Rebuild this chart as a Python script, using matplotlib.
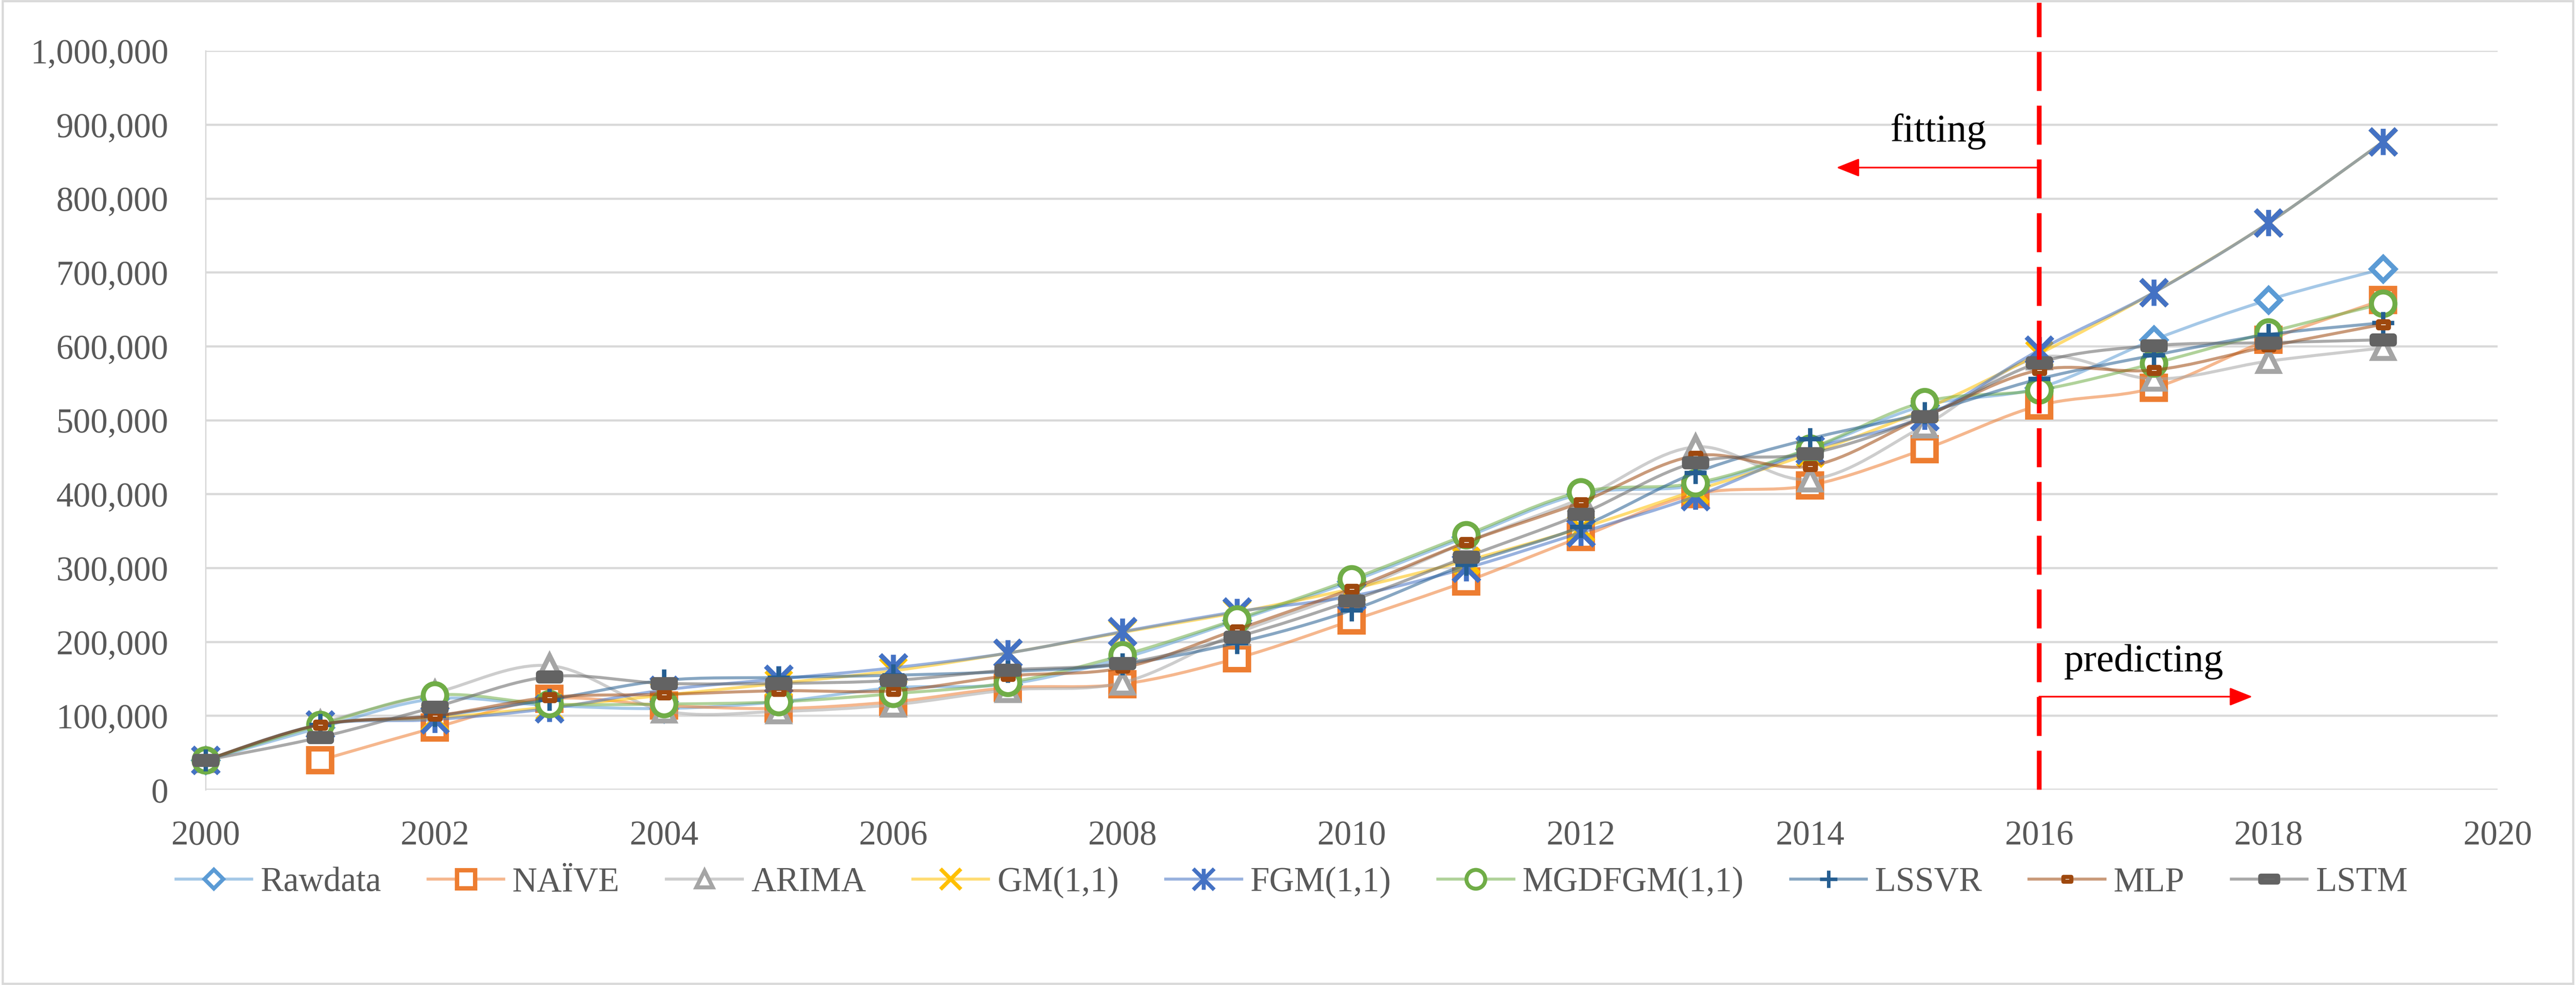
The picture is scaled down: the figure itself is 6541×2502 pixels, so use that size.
import matplotlib
matplotlib.use('Agg')
import matplotlib.pyplot as plt
import numpy as np
from matplotlib.path import Path
from matplotlib.patches import PathPatch, Rectangle
from matplotlib.lines import Line2D

plt.rcParams['font.family'] = ['Liberation Serif', 'DejaVu Serif']

# data
years = list(range(2000, 2020))

rawdata = [40000, 84000, 123000, 114000, 110000, 119000, 138000, 143000, 178000, 229000,
           282000, 342000, 400000, 412000, 461000, 520000, 544000, 609000, 663000, 705000]
naive = [None, 40000, 84000, 123000, 114000, 110000, 119000, 138000, 143000, 178000,
         229000, 282000, 342000, 400000, 412000, 461000, 520000, 544000, 609000, 663000]
arima = [40000, 90000, 131000, 168000, 107000, 106000, 115000, 135000, 145000, 212000,
         268000, 335000, 394000, 464000, 420000, 493000, 585000, 556000, 580000, 598000]
gm = [40000, 88000, 97000, 112000, 128000, 144000, 161000, 185000, 213000, 240000,
      272000, 310000, 354000, 405000, 455000, 515000, 590000, 673000, 767000, 877000]
fgm = [40000, 88000, 95000, 110000, 135000, 150000, 165000, 185000, 214000, 241000,
       262000, 300000, 348000, 397000, 460000, 505000, 595000, 673000, 767000, 877000]
mgdfgm = [40000, 88000, 128000, 116000, 116000, 119000, 130000, 145000, 182000, 231000,
          285000, 345000, 403000, 415000, 462000, 525000, 541000, 577000, 619000, 658000]
lssvr = [40000, 88000, 100000, 122000, 148000, 152000, 155000, 160000, 170000, 199000,
         243000, 305000, 356000, 429000, 475000, 510000, 556000, 588000, 616000, 632000]
mlp = [40000, 88000, 100000, 125000, 129000, 134000, 134000, 154000, 165000, 217000,
       272000, 335000, 389000, 452000, 438000, 505000, 568000, 568000, 600000, 630000]
lstm = [40000, 71000, 112000, 153000, 144000, 144000, 148000, 162000, 171000, 207000,
        256000, 315000, 373000, 443000, 455000, 505000, 578000, 601000, 605000, 609000]

labels = ['Rawdata', 'NAÏVE', 'ARIMA', 'GM(1,1)', 'FGM(1,1)', 'MGDFGM(1,1)', 'LSSVR', 'MLP', 'LSTM']
series = [rawdata, naive, arima, gm, fgm, mgdfgm, lssvr, mlp, lstm]
colors = ['#5B9BD5', '#ED7D31', '#A5A5A5', '#FFC000', '#4472C4', '#70AD47', '#255E91', '#9E480E', '#636363']

split_year = 2016

# custom markers: excel style star and dash
star = Path([(-0.5, -0.5), (0.5, 0.5), (-0.5, 0.5), (0.5, -0.5), (0, -0.5), (0, 0.5)],
            [Path.MOVETO, Path.LINETO, Path.MOVETO, Path.LINETO, Path.MOVETO, Path.LINETO])
small_dash = Path([(-0.5, -0.3), (0.5, -0.3), (0.5, 0.3), (-0.5, 0.3), (-0.5, -0.3)],
                  [Path.MOVETO, Path.LINETO, Path.LINETO, Path.LINETO, Path.CLOSEPOLY])
wide_dash = Path([(-0.5, -0.16), (0.5, -0.16), (0.5, 0.16), (-0.5, 0.16), (-0.5, -0.16)],
                 [Path.MOVETO, Path.LINETO, Path.LINETO, Path.LINETO, Path.CLOSEPOLY])

# marker, size, edge width, filled with white
styles = [
    dict(marker='D', ms=31, mew=9, mfc='white'),
    dict(marker='s', ms=42, mew=10, mfc='white'),
    dict(marker='^', ms=38, mew=9, mfc='white'),
    dict(marker='x', ms=46, mew=9),
    dict(marker=star, ms=48, mew=9),
    dict(marker='o', ms=43, mew=9, mfc='white'),
    dict(marker='+', ms=40, mew=8),
    dict(marker=small_dash, ms=18, mew=9.5, mfc='white'),
    dict(marker=wide_dash, ms=38, mew=12.5, mfc='white'),
]


def smooth_path(x, y):
    # excel like smoothed line through the points
    pts = [(a, b) for a, b in zip(x, y) if b is not None]
    n = len(pts)
    verts = [pts[0]]
    codes = [Path.MOVETO]
    for i in range(n - 1):
        p0 = pts[i - 1] if i > 0 else pts[i]
        p1 = pts[i]
        p2 = pts[i + 1]
        p3 = pts[i + 2] if i + 2 < n else pts[i + 1]
        c1 = (p1[0] + (p2[0] - p0[0]) / 6, p1[1] + (p2[1] - p0[1]) / 6)
        c2 = (p2[0] - (p3[0] - p1[0]) / 6, p2[1] - (p3[1] - p1[1]) / 6)
        verts += [c1, c2, p2]
        codes += [Path.CURVE4] * 3
    return Path(verts, codes)


fig = plt.figure(figsize=(65.41, 25.02), dpi=100)
ax = fig.add_axes([0.0798, 0.1982, 0.8898, 0.7502])

handles = []
for i, (lab, vals, col, st) in enumerate(zip(labels, series, colors, styles)):
    patch = PathPatch(smooth_path(years, vals), facecolor='none', edgecolor=col,
                      lw=5.5, alpha=0.55, zorder=3 + i * 2, capstyle='round')
    ax.add_patch(patch)
    yv = [np.nan if v is None else v for v in vals]
    ax.plot(years, yv, linestyle='none', marker=st['marker'], markersize=st['ms'],
            markeredgewidth=st['mew'], markeredgecolor=col,
            markerfacecolor=st.get('mfc', col), zorder=4 + i * 2, clip_on=False)
    handles.append(Line2D([0], [0], color=matplotlib.colors.to_rgba(col, 0.55), lw=5.5,
                          marker=st['marker'], markersize=st['ms'] * 0.8,
                          markeredgewidth=st['mew'] * 0.8, markeredgecolor=col,
                          markerfacecolor=st.get('mfc', col)))

ax.set_xlim(2000, 2020)
ax.set_ylim(0, 1000000)
ax.set_xticks(range(2000, 2021, 2))
ax.set_yticks(range(0, 1000001, 100000))
ax.set_yticklabels(['{:,}'.format(v) for v in range(0, 1000001, 100000)])
ax.tick_params(axis='both', length=0, labelsize=63, labelcolor='#595959')
ax.tick_params(axis='y', pad=68)
ax.tick_params(axis='x', pad=55)
ax.grid(axis='y', color='#D9D9D9', lw=4)
ax.set_axisbelow(True)
for s in ['top', 'right', 'bottom']:
    ax.spines[s].set_visible(False)
ax.spines['left'].set_color('#D9D9D9')
ax.spines['left'].set_linewidth(2.5)

# split between fitting and predicting
ax.plot([split_year, split_year], [0, 1065000], color='#FF0000', lw=8.7,
        linestyle=(0, (8.2, 3.1)), solid_capstyle='butt', dash_capstyle='butt',
        zorder=30, clip_on=False)

ax.annotate('', xy=(2014.23, 842000), xytext=(split_year, 842000),
            arrowprops=dict(arrowstyle='-|>,head_length=0.45,head_width=0.18',
                            color='#FF0000', lw=3, mutation_scale=80, shrinkA=0, shrinkB=0),
            zorder=31)
ax.annotate('', xy=(2017.86, 126000), xytext=(split_year, 126000),
            arrowprops=dict(arrowstyle='-|>,head_length=0.45,head_width=0.18',
                            color='#FF0000', lw=3, mutation_scale=80, shrinkA=0, shrinkB=0),
            zorder=31)
ax.text(2015.12, 891000, 'fitting', fontsize=72, ha='center', va='center', zorder=31)
ax.text(2016.91, 173000, 'predicting', fontsize=72, ha='center', va='center', zorder=31)

fig.legend(handles=handles, labels=labels, loc='center', bbox_to_anchor=(0.5015, 0.104),
           ncol=9, frameon=False, fontsize=63, handlelength=2.2, handletextpad=0.25,
           columnspacing=1.36, labelcolor='#595959')

# chart border
fig.patches.append(Rectangle((0.001, 0.001), 0.998, 0.998, transform=fig.transFigure,
                             fill=False, edgecolor='#D9D9D9', lw=4))

fig.savefig('out.png', dpi=100)
